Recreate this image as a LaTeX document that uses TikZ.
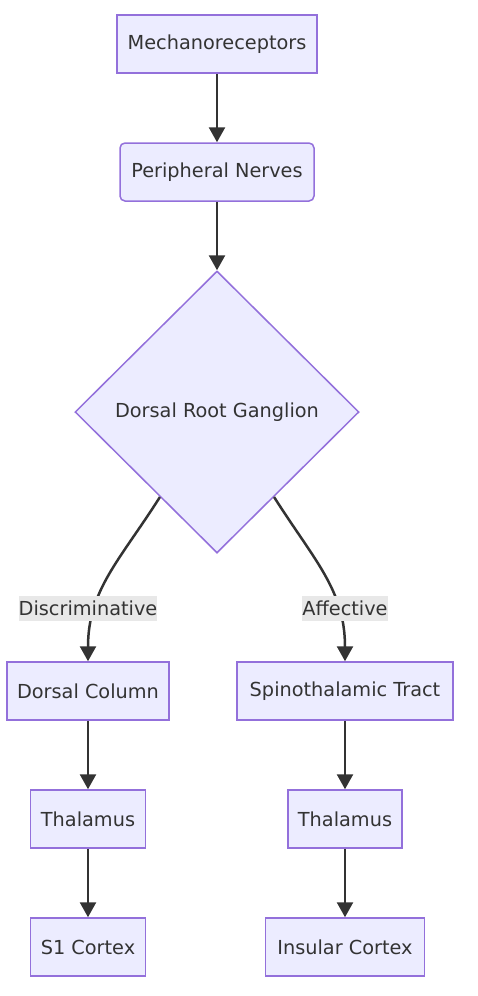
\documentclass[tikz,border=0pt]{standalone}
\usepackage{fontspec}
\setmainfont{DejaVu Sans}
\usetikzlibrary{shapes.geometric,arrows.meta,calc}
\definecolor{nodefill}{HTML}{ECECFF}
\definecolor{nodeline}{HTML}{9370DB}
\definecolor{edgecol}{HTML}{333333}
\definecolor{txtcol}{HTML}{333333}
\definecolor{lblfill}{HTML}{E8E8E8}
\begin{document}
\begin{tikzpicture}[x=1pt,y=-1pt,
  every node/.style={font=\fontsize{19.3}{23}\selectfont, text=txtcol},
  box/.style={draw=nodeline, fill=nodefill, line width=1.5pt, inner sep=0pt, minimum height=58pt},
  rbox/.style={box, rounded corners=5pt},
  dia/.style={diamond, draw=nodeline, fill=nodefill, line width=1.5pt, inner sep=0pt, minimum width=284pt, minimum height=282pt, aspect=1},
  lbl/.style={fill=lblfill, inner sep=0pt, minimum height=25pt},
  arr/.style={draw=edgecol, line width=2.5pt, -{Triangle[length=15pt,width=16pt]}}
]
\useasboundingbox (0,0) rectangle (477,996);
\node[box, minimum width=200pt] (mech) at (217,44) {Mechanoreceptors};
\node[rbox, minimum width=194pt] (pn) at (217,172) {Peripheral Nerves};
\node[dia] (drg) at (217,412) {Dorsal Root Ganglion};
\node[box, minimum width=162pt] (dc) at (88,691) {Dorsal Column};
\node[box, minimum width=216pt] (st) at (345,691) {Spinothalamic Tract};
\node[box, minimum width=115pt] (th1) at (88,819) {Thalamus};
\node[box, minimum width=114pt] (th2) at (345,819) {Thalamus};
\node[box, minimum width=115pt] (s1) at (88,947) {S1 Cortex};
\node[box, minimum width=159pt] (ins) at (345,947) {Insular Cortex};

\coordinate (dl) at ($(drg.south)!0.4!(drg.west)$);
\coordinate (dr) at ($(drg.south)!0.4!(drg.east)$);

\draw[arr] (mech) -- (pn);
\draw[arr] (pn) -- (drg.north);
\draw[arr] (dl) .. controls (120,560) and (88,590) .. (dc.north);
\draw[arr] (dr) .. controls (314,560) and (345,590) .. (st.north);
\draw[arr] (dc) -- (th1);
\draw[arr] (th1) -- (s1);
\draw[arr] (st) -- (th2);
\draw[arr] (th2) -- (ins);

\node[lbl] (l1) at (88,608) {Discriminative};
\node[lbl] (l2) at (345,608) {Affective};
\end{tikzpicture}
\end{document}
